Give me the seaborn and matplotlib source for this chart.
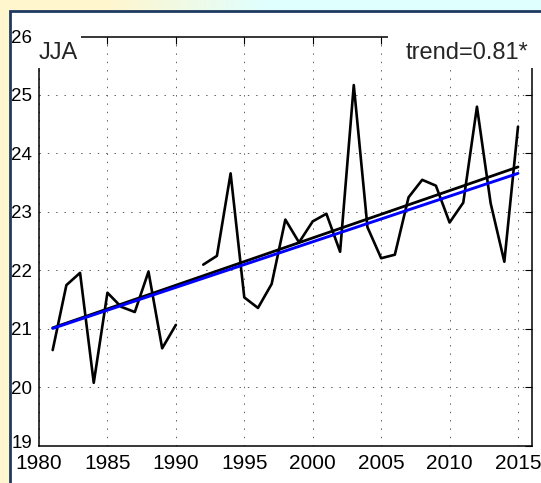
import numpy as np
import pandas as pd
import seaborn as sns
import matplotlib.pyplot as plt
import matplotlib.transforms as mtransforms
from matplotlib.patches import Rectangle

# JJA mean temperature, 1991 missing
years = list(range(1981, 2016))
jja_temp = [20.64, 21.75, 21.96, 20.08, 21.62, 21.38, 21.29, 21.98, 20.67, 21.07,
            np.nan, 22.10, 22.25, 23.66, 21.54, 21.36, 21.77, 22.87, 22.48, 22.84,
            22.97, 22.32, 25.17, 22.74, 22.21, 22.27, 23.25, 23.55, 23.45, 22.82,
            23.16, 24.80, 23.15, 22.15, 24.46]

# trend line end points
trend_years = [1981, 2015]
trend_black = [21.02, 23.77]
trend_blue = [21.01, 23.66]

x_ticks = [1980, 1985, 1990, 1995, 2000, 2005, 2010, 2015]
y_ticks = [19, 20, 21, 22, 23, 24, 25, 26]
season_label = 'JJA'
trend_label = 'trend=0.81*'

sns.set_theme(style='white')
plt.rcParams['font.family'] = ['Liberation Sans', 'DejaVu Sans']
plt.rcParams['lines.scale_dashes'] = False

fig = plt.figure(figsize=(5.41, 4.83), dpi=100)

# slide-like gradient background
ax_bg = fig.add_axes([0, 0, 1, 1], zorder=-10)
xx = np.linspace(0, 541, 541)
t = np.clip((xx - 110) / 160, 0, 1)[None, :, None]
yellow = np.array([1.0, 0.965, 0.81])
cyan = np.array([0.875, 1.0, 1.0])
grad = yellow * (1 - t) + cyan * t
ax_bg.imshow(np.repeat(grad, 10, axis=0), aspect='auto', extent=[0, 1, 0, 1])
ax_bg.set_axis_off()

# white panel with navy frame
fig.add_artist(Rectangle((9.5 / 541, -0.1), 1.2, (483 - 10.5) / 483 + 0.1,
                         transform=fig.transFigure, facecolor='white',
                         edgecolor='#1f3a60', lw=2.0, zorder=-5))

ax = fig.add_axes([39 / 541, 37 / 483, 492.7 / 541, 409.5 / 483])
ax.set_facecolor('white')

df = pd.DataFrame({'year': years, 'temp': jja_temp})
df['segment'] = df['temp'].isna().cumsum()
df = df.dropna()

sns.lineplot(data=df, x='year', y='temp', units='segment', estimator=None,
             color='black', lw=1.9, ax=ax)
sns.lineplot(x=trend_years, y=trend_black, color='black', lw=2.0, ax=ax)
sns.lineplot(x=trend_years, y=trend_blue, color='#0000ff', lw=2.1, ax=ax)

ax.set_xlim(1980, 2016)
ax.set_ylim(19, 26)
ax.set_xticks(x_ticks)
ax.set_yticks(y_ticks)
ax.set_xlabel('')
ax.set_ylabel('')
ax.grid(True, color='0.35', lw=0.7, linestyle=(0, (1, 5)))
ax.tick_params(direction='in', length=5, width=0.8, top=True, right=True,
               colors='black')
ax.tick_params(axis='x', labelsize=15, pad=6)
ax.tick_params(axis='y', labelsize=13.5, pad=5)
for s in ax.spines.values():
    s.set_color('black')
    s.set_linewidth(1.1)

# nudge the lowest y label up so it clears the year labels
lowest = ax.get_yticklabels()[0]
lowest.set_transform(lowest.get_transform() +
                     mtransforms.ScaledTranslation(0, 3 / 72, fig.dpi_scale_trans))

# white boxes behind the labels hide the top frame
ax.add_patch(Rectangle((-0.004, 0.923), 0.089, 0.09, transform=ax.transAxes,
                       facecolor='white', edgecolor='none', zorder=5, clip_on=False))
ax.add_patch(Rectangle((0.708, 0.923), 0.3, 0.09, transform=ax.transAxes,
                       facecolor='white', edgecolor='none', zorder=5, clip_on=False))
ax.text(0.0, 0.946, season_label, transform=ax.transAxes, fontsize=17,
        ha='left', va='baseline', zorder=6)
ax.text(0.994, 0.946, trend_label, transform=ax.transAxes, fontsize=17,
        ha='right', va='baseline', zorder=6)

plt.savefig('out.png', dpi=100)
plt.close()
